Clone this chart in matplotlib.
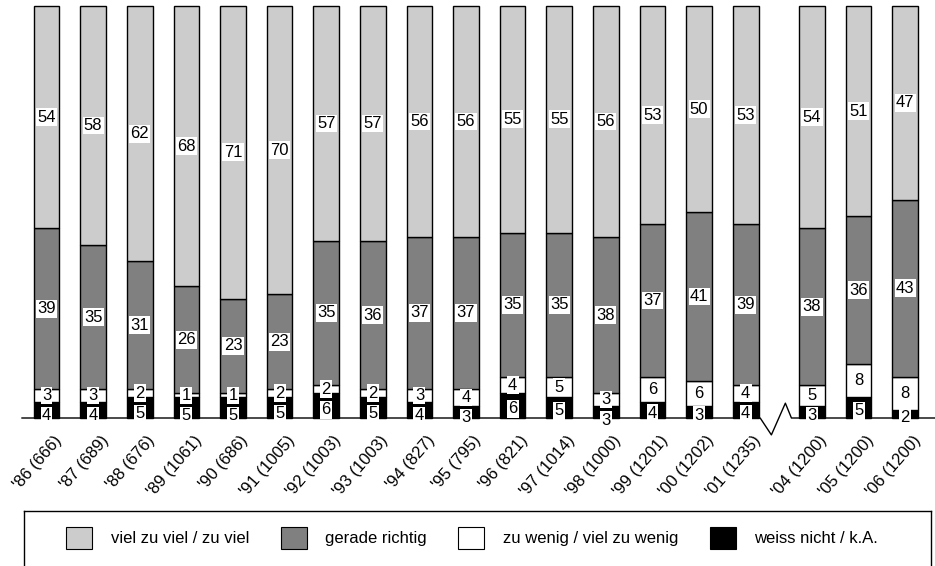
"""Stacked bar chart: Beurteilung 1986-2006 (Anteile in %)."""

import matplotlib
matplotlib.use("Agg")
import matplotlib.pyplot as plt
import matplotlib.transforms as mtransforms
from matplotlib.patches import Patch
import numpy as np

plt.rcParams["font.family"] = ["Liberation Sans", "DejaVu Sans"]

YEARS = ["'86 (666)", "'87 (689)", "'88 (676)", "'89 (1061)", "'90 (686)",
         "'91 (1005)", "'92 (1003)", "'93 (1003)", "'94 (827)", "'95 (795)",
         "'96 (821)", "'97 (1014)", "'98 (1000)", "'99 (1201)", "'00 (1202)",
         "'01 (1235)", "'04 (1200)", "'05 (1200)", "'06 (1200)"]

VIEL_ZU_VIEL = [54, 58, 62, 68, 71, 70, 57, 57, 56, 56, 55, 55, 56, 53, 50, 53, 54, 51, 47]
GERADE_RICHTIG = [39, 35, 31, 26, 23, 23, 35, 36, 37, 37, 35, 35, 38, 37, 41, 39, 38, 36, 43]
ZU_WENIG = [3, 3, 2, 1, 1, 2, 2, 2, 3, 4, 4, 5, 3, 6, 6, 4, 5, 8, 8]
WEISS_NICHT = [4, 4, 5, 5, 5, 5, 6, 5, 4, 3, 6, 5, 3, 4, 3, 4, 3, 5, 2]

LABELS = ["viel zu viel / zu viel", "gerade richtig",
          "zu wenig / viel zu wenig", "weiss nicht / k.A."]
COLORS = ["#cccccc", "#808080", "#ffffff", "#000000"]

BREAK_AFTER = 15      # gap in the series between '01 and '04
BREAK_GAP = 0.42
BAR_WIDTH = 0.55
FS = 12

W, H = 935, 566
fig = plt.figure(figsize=(W / 100, H / 100), dpi=100)
ax = fig.add_axes([22 / W, (H - 418) / H, (W - 22) / W, 412 / H])

pos = np.arange(len(YEARS), dtype=float)
pos[BREAK_AFTER + 1:] += BREAK_GAP

# stacking order bottom -> top
stack = [
    (np.array(WEISS_NICHT), COLORS[3]),
    (np.array(ZU_WENIG), COLORS[2]),
    (np.array(GERADE_RICHTIG), COLORS[1]),
    (np.array(VIEL_ZU_VIEL), COLORS[0]),
]

bottom = np.zeros(len(YEARS))
centers = []
for vals, col in stack:
    ax.bar(pos, vals, bottom=bottom, width=BAR_WIDTH, color=col,
           edgecolor="black", linewidth=1.0, clip_on=False, zorder=2)
    centers.append(bottom + vals / 2)
    bottom = bottom + vals

# labels; the small bottom label gets pushed below the one above it
box = dict(boxstyle="square,pad=0.08", fc="white", ec="none")
for k, (vals, _) in enumerate(stack):
    for i in range(len(YEARS)):
        y = centers[k][i]
        if k == 0:
            y = min(y, centers[1][i] - 4.2) - 0.8
        ax.text(pos[i], y, str(vals[i]), ha="center", va="center",
                fontsize=FS, bbox=box, zorder=6, clip_on=False)

# baseline with a zigzag break marker
x_lo, x_hi = -0.526, pos[-1] + 0.64
mid = (pos[BREAK_AFTER] + pos[BREAK_AFTER + 1]) / 2
bx = [x_lo, mid - 0.40, mid - 0.16, mid + 0.14, mid + 0.27, x_hi]
by = [0, 0, -4.1, 3.6, 0, 0]
ax.plot(bx, by, color="black", linewidth=1.0, clip_on=False, zorder=3)

ax.set_xlim(x_lo, x_hi)
ax.set_ylim(0, 100)
for s in ax.spines.values():
    s.set_visible(False)
ax.set_yticks([])
ax.set_xticks(pos)
ax.set_xticklabels(YEARS, rotation=49, ha="right", rotation_mode="anchor", fontsize=FS)
ax.tick_params(axis="x", length=0, pad=10.5)
shift = mtransforms.ScaledTranslation(0.07, 0, fig.dpi_scale_trans)
for lbl in ax.get_xticklabels():
    lbl.set_transform(lbl.get_transform() + shift)

# legend in its own framed box
lax = fig.add_axes([24 / W, -10 / H, (931 - 24) / W, (H - 511 + 10) / H])
lax.set_xticks([])
lax.set_yticks([])
for s in lax.spines.values():
    s.set_linewidth(1.0)
    s.set_color("black")
handles = [Patch(facecolor=c, edgecolor="black", linewidth=0.8, label=l)
           for c, l in zip(COLORS, LABELS)]
lax.legend(handles=handles, ncol=4, loc="center",
           bbox_to_anchor=(472 / W, (H - 538) / H), bbox_transform=fig.transFigure,
           frameon=False, fontsize=FS, handlelength=1.56, handleheight=1.62,
           handletextpad=1.1, columnspacing=1.9)

fig.savefig("out.png", dpi=100)
